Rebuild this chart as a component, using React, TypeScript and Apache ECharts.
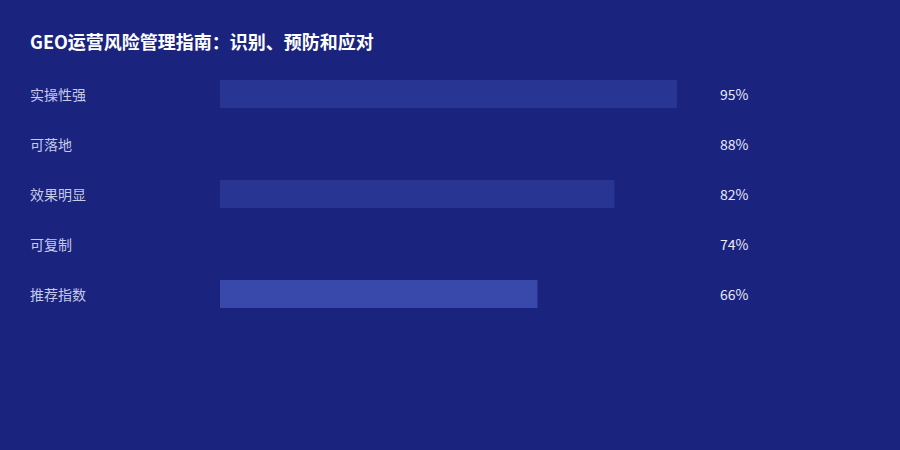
import React, { useEffect, useRef } from "react";
import * as echarts from "echarts";

const titleText = "GEO运营风险管理指南：识别、预防和应对";
const categories = ["实操性强", "可落地", "效果明显", "可复制", "推荐指数"];
const values = [95, 88, 82, 74, 66];
const barColors = ["#283593", "#1a237e", "#283593", "#1a237e", "#3949ab"];
const valueLabels = values.map((v) => v + "%");

const FONT = "'Noto Sans CJK SC', 'Noto Sans', sans-serif";

export default function App() {
  const ref = useRef<HTMLDivElement>(null);
  useEffect(() => {
    if (!ref.current) return;
    const chart = echarts.init(ref.current, null, { renderer: "svg" });
    chart.setOption({
      animation: false,
      backgroundColor: "#1a237e",
      textStyle: { fontFamily: FONT },
      title: {
        text: titleText,
        left: 30,
        top: 32,
        padding: 0,
        textStyle: { color: "#ffffff", fontSize: 18, fontWeight: "bold", fontFamily: FONT },
      },
      grid: { left: 220, right: 199, top: 69, height: 250 },
      xAxis: {
        type: "value",
        min: 0,
        max: 100,
        show: false,
      },
      yAxis: [
        {
          type: "category",
          data: categories,
          inverse: true,
          axisLine: { show: false },
          axisTick: { show: false },
          splitLine: { show: false },
          axisLabel: {
            align: "left",
            margin: 190,
            color: "#c5cae9",
            fontSize: 14,
            fontFamily: FONT,
          },
        },
        {
          type: "category",
          data: valueLabels,
          inverse: true,
          position: "right",
          axisLine: { show: false },
          axisTick: { show: false },
          splitLine: { show: false },
          axisLabel: {
            align: "left",
            margin: 19,
            color: "#e8eaf6",
            fontSize: 14,
            fontFamily: FONT,
          },
        },
      ],
      series: [
        {
          type: "bar",
          yAxisIndex: 0,
          barWidth: 28,
          data: values.map((v, i) => ({ value: v, itemStyle: { color: barColors[i] } })),
        },
      ],
    });
    return () => chart.dispose();
  }, []);
  return <div ref={ref} style={{ width: 900, height: 450, position: "absolute", left: 0, top: 0 }} />;
}
